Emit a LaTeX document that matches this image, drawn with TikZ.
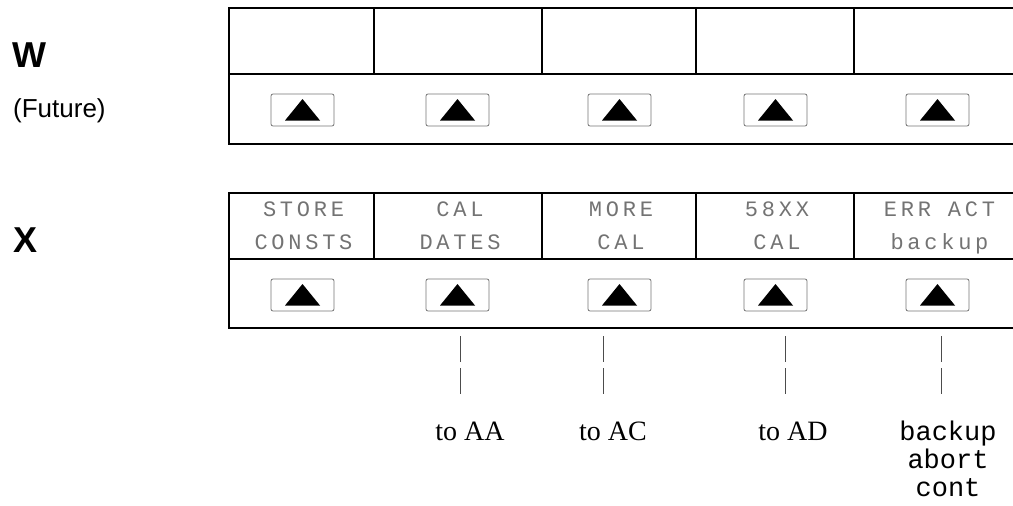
\documentclass[tikz,border=0pt]{standalone}
\usepackage{fontspec}
\setmainfont{Liberation Serif}
\setsansfont{Liberation Sans}
\setmonofont{Liberation Mono}
\newfontfamily\lcdfont{Liberation Mono}[LetterSpace=17]
\tikzset{
  panel/.style={line width=2.6pt},
  btn/.style={draw=black!55,line width=0.8pt,rounded corners=2pt,minimum width=63pt,minimum height=32pt,inner sep=0pt},
  lcd/.style={anchor=base,inner sep=0pt,text=black!55,font=\lcdfont\fontsize{22}{26}\selectfont},
  tick/.style={black!70,line width=0.8pt},
  target/.style={anchor=base,inner sep=0pt,font=\fontsize{28}{32}\selectfont},
  choice/.style={anchor=base,inner sep=0pt,font=\ttfamily\fontsize{27}{28}\selectfont}
}
\begin{document}
\begin{tikzpicture}[x=1pt,y=-1pt]
            \useasboundingbox (0,0) rectangle (1013,506);
            % row W
            \node[anchor=base west,inner sep=0pt,font=\sffamily\bfseries\fontsize{36}{40}\selectfont] (labW) at (12,67) {W};
            \node[anchor=base west,inner sep=0pt,font=\sffamily\fontsize{26}{30}\selectfont] (future) at (13,117) {(Future)};
            \draw[panel] (1013,8) -- (229,8) -- (229,144) -- (1013,144);
            \draw[panel] (229,74) -- (1013,74);
            \foreach \x in {374,542,696,854} \draw[panel] (\x,8) -- (\x,74);
            \foreach \x [count=\i] in {302.5,457.5,619.5,775.5,937.5}{
              \node[btn] (w\i) at (\x,110) {};
              \fill (\x-17.5,120.5) -- (\x+17.5,120.5) -- (\x,99) -- cycle;
            }
            % row X
            \node[anchor=base west,inner sep=0pt,font=\sffamily\bfseries\fontsize{36}{40}\selectfont] (labX) at (13,252) {X};
            \draw[panel] (1013,193) -- (229,193) -- (229,328) -- (1013,328);
            \draw[panel] (229,259) -- (1013,259);
            \foreach \x in {374,542,696,854} \draw[panel] (\x,193) -- (\x,259);
            \foreach \x [count=\i] in {302.5,457.5,619.5,775.5,937.5}{
              \node[btn] (x\i) at (\x,295) {};
              \fill (\x-17.5,305.5) -- (\x+17.5,305.5) -- (\x,284) -- cycle;
            }
            \foreach \x/\a/\b [count=\i] in {303.5/STORE/CONSTS,460/CAL/DATES,621/MORE/CAL,777/58XX/CAL,939.5/ERR ACT/backup}{
              \node[lcd] (top\i) at (\x,216) {\a};
              \node[lcd] (bot\i) at (\x,249) {\b};
            }
            % ticks and targets
            \foreach \x in {460,603,785,941}{
              \draw[tick] (\x,336) -- (\x,362);
              \draw[tick] (\x,368) -- (\x,394);
            }
            \node[target] (toAA) at (470,440) {to AA};
            \node[target] (toAC) at (613,440) {to AC};
            \node[target] (toAD) at (793,440) {to AD};
            \node[choice] (backup) at (948,440) {backup};
            \node[choice] (abort) at (948,468) {abort};
            \node[choice] (cont) at (948,496) {cont};
        \end{tikzpicture}
\end{document}
